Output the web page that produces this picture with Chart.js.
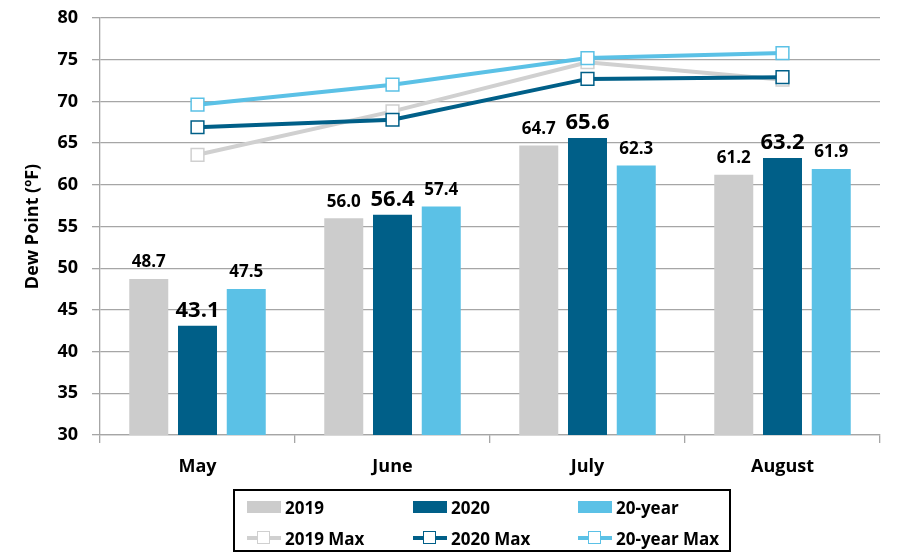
<!DOCTYPE html>
<html>
<head>
<meta charset="utf-8">
<script src="https://cdn.jsdelivr.net/npm/chart.js@4/dist/chart.umd.min.js"></script>
<style>
  body { margin: 0; background: #fff; }
  #wrap { position: relative; width: 905px; height: 552px; }
  #legend {
    position: absolute; left: 233px; top: 489px; width: 494px; height: 59px;
    border: 2px solid #000; box-sizing: content-box;
    font-family: "Open Sans", "Liberation Sans", sans-serif; font-weight: bold; font-size: 17px; color: #000;
  }
  .item { position: absolute; display: flex; align-items: center; height: 24px; white-space: nowrap; }
  .swatch { display: inline-block; width: 34px; height: 12px; margin-right: 4px; }
  .lineicon { position: relative; display: inline-block; width: 34px; height: 14px; margin-right: 4px; }
  .lineicon .ln { position: absolute; left: 0; right: 0; top: 5px; height: 4px; }
  .lineicon .sq { position: absolute; left: 10px; top: 0; width: 11px; height: 11px; background: #fff; border: 1.5px solid; }
</style>
</head>
<body>
<div id="wrap">
  <canvas id="dew" width="905" height="552"></canvas>
  <div id="legend"></div>
</div>
<script>
var months = ["May", "June", "July", "August"];

var avg2019 = [48.7, 56.0, 64.7, 61.2];
var avg2020 = [43.1, 56.4, 65.6, 63.2];
var avg20yr = [47.5, 57.4, 62.3, 61.9];

var max2019 = [63.6, 68.8, 74.7, 72.6];
var max2020 = [66.9, 67.8, 72.7, 72.9];
var max20yr = [69.6, 72.0, 75.2, 75.8];

var yTicks = [30, 35, 40, 45, 50, 55, 60, 65, 70, 75, 80];

var gray = "#cccccc";
var navy = "#005f88";
var sky = "#5bc1e6";
var font = "'Open Sans', 'Liberation Sans', sans-serif";

// numbers above the bars, 2020 ones larger
var barLabels = {
  id: "barLabels",
  afterDatasetsDraw(chart) {
    var ctx = chart.ctx;
    chart.data.datasets.forEach(function(ds, i){
      if (ds.type !== "bar") return;
      var meta = chart.getDatasetMeta(i);
      var big = ds.label === "2020";
      ctx.save();
      ctx.font = "bold " + (big ? 22 : 17) + "px " + font;
      ctx.fillStyle = "#000";
      ctx.textAlign = "center";
      ctx.textBaseline = "bottom";
      meta.data.forEach(function(bar, j){
        ctx.fillText(ds.data[j].toFixed(1), bar.x, bar.y - (big ? 4 : 8));
      });
      ctx.restore();
    });
  }
};

function barSet(label, data, color){
  return { type: "bar", label: label, data: data, backgroundColor: color, order: 10,
           barPercentage: 0.8, categoryPercentage: 0.75 };
}
function lineSet(label, data, color, ord){
  return { type: "line", label: label, data: data, borderColor: color, borderWidth: 4,
           pointStyle: "rect", pointRadius: 9, pointHoverRadius: 9, pointBackgroundColor: "#fff",
           pointBorderColor: color, pointBorderWidth: 1.5, fill: false, tension: 0, order: ord };
}

var datasets = [
  barSet("2019", avg2019, gray),
  barSet("2020", avg2020, navy),
  barSet("20-year", avg20yr, sky),
  lineSet("2019 Max", max2019, "#d0d0d0", 3),
  lineSet("2020 Max", max2020, navy, 2),
  lineSet("20-year Max", max20yr, sky, 1)
];

new Chart(document.getElementById("dew"), {
  data: { labels: months, datasets: datasets },
  options: {
    responsive: false,
    animation: false,
    layout: { padding: { top: 18, right: 25, left: 0, bottom: 0 } },
    plugins: { legend: { display: false }, tooltip: { enabled: false } },
    scales: {
      x: {
        grid: { offset: true, drawOnChartArea: false, tickLength: 8, color: "#a6a6a6", lineWidth: 1.3 },
        border: { color: "#a6a6a6", width: 1.3 },
        ticks: { color: "#000", font: { family: font, weight: "bold", size: 18 }, padding: 13 },
        afterFit(scale){ scale.height = 117; }
      },
      y: {
        min: 30, max: 80,
        afterBuildTicks(scale){ scale.ticks = yTicks.map(function(v){ return { value: v }; }); },
        grid: { color: "#a6a6a6", lineWidth: 1.3, tickLength: 8 },
        border: { color: "#a6a6a6", width: 1.3 },
        ticks: { color: "#000", font: { family: font, weight: "bold", size: 18 }, padding: 14 },
        title: { display: true, text: "Dew Point (ºF)", color: "#000",
                 font: { family: font, weight: "bold", size: 18 }, padding: { top: 22, bottom: 0 } },
        afterFit(scale){ scale.width = 100; scale.paddingTop = 0; scale.paddingBottom = 0; }
      }
    }
  },
  plugins: [barLabels]
});

// legend box: bars on the first row, max lines on the second
var legend = document.getElementById("legend");
var colX = [12, 178, 343];
datasets.forEach(function(ds, i){
  var row = ds.type === "bar" ? 0 : 1;
  var col = i % 3;
  var icon;
  if (ds.type === "bar") {
    icon = `<span class="swatch" style="background:${ds.backgroundColor}"></span>`;
  } else {
    icon = `<span class="lineicon"><span class="ln" style="background:${ds.borderColor}"></span>` +
           `<span class="sq" style="border-color:${ds.borderColor}"></span></span>`;
  }
  legend.insertAdjacentHTML("beforeend",
    `<div class="item" style="left:${colX[col]}px;top:${row ? 35 : 4}px">${icon}${ds.label}</div>`);
});
</script>
</body>
</html>
